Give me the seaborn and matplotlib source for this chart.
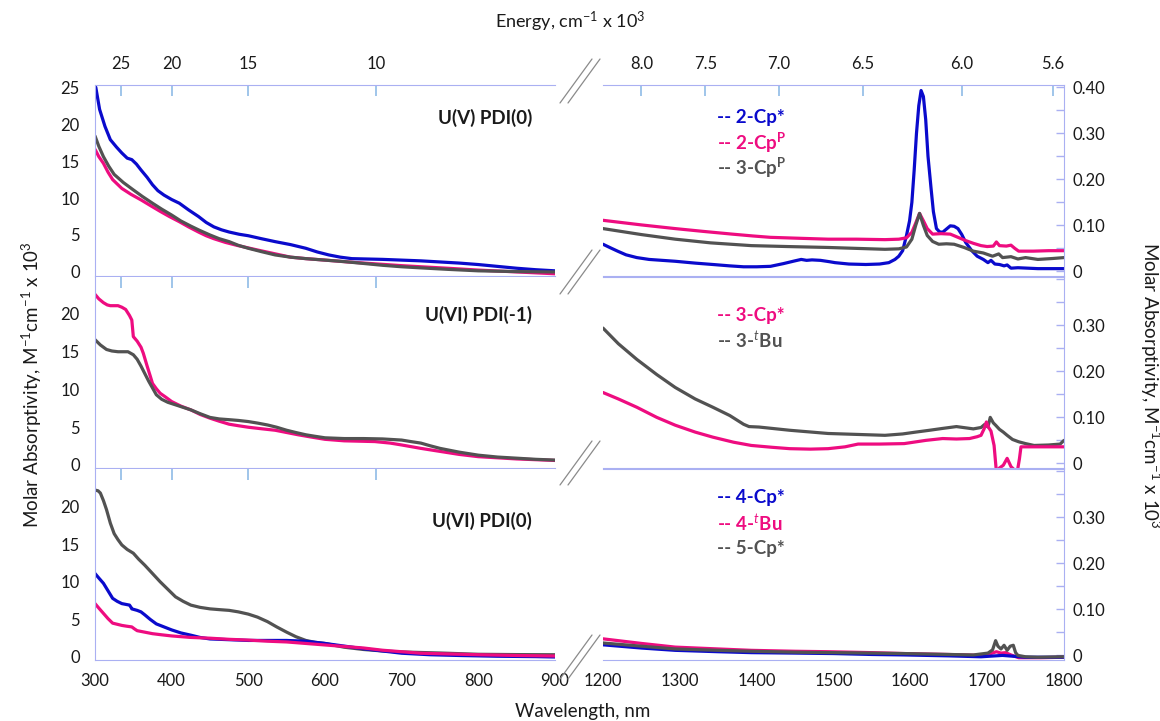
import seaborn as sns
import matplotlib.pyplot as plt
from matplotlib.lines import Line2D
from matplotlib.ticker import MultipleLocator

# ---- UV-vis region (nm), molar absorptivity x 10^3 ----
# U(V) PDI(0)
uv_2cps_x = [301, 306, 313, 320, 328, 335, 342, 348, 354, 360, 368, 375, 382, 390, 400, 410, 422, 435, 445,
             455, 465, 475, 488, 500, 517, 535, 555, 575, 590, 605, 620, 635, 655, 675, 700, 725, 750, 775,
             800, 825, 850, 875, 900]
uv_2cps_y = [25.0, 22.0, 19.7, 17.9, 16.9, 16.1, 15.4, 15.2, 14.6, 13.8, 12.8, 11.8, 11.0, 10.4, 9.8, 9.3, 8.4,
             7.5, 6.7, 6.1, 5.7, 5.4, 5.1, 4.9, 4.5, 4.1, 3.7, 3.2, 2.7, 2.3, 2.0, 1.8, 1.75, 1.7, 1.6, 1.5,
             1.35, 1.2, 1.0, 0.75, 0.5, 0.3, 0.15]
uv_2cpp_x = [300, 305, 311, 317, 323, 335, 347, 360, 372, 385, 397, 410, 422, 435, 445, 455, 470, 485, 500,
             515, 535, 555, 575, 600, 630, 665, 700, 725, 760, 800, 850, 900]
uv_2cpp_y = [16.6, 15.6, 14.7, 13.5, 12.5, 11.3, 10.5, 9.75, 9.0, 8.2, 7.5, 6.8, 6.1, 5.4, 4.9, 4.5, 4.0, 3.6,
             3.25, 2.9, 2.45, 2.0, 1.8, 1.6, 1.35, 1.1, 0.85, 0.7, 0.5, 0.25, 0.0, -0.25]
uv_3cpp_x = [300, 305, 311, 318, 325, 337, 350, 362, 375, 387, 400, 412, 425, 437, 450, 462, 475, 487, 500,
             517, 535, 555, 575, 600, 625, 650, 675, 700, 725, 760, 800, 850, 900]
uv_3cpp_y = [18.4, 17.0, 15.6, 14.3, 13.2, 12.1, 11.1, 10.2, 9.3, 8.5, 7.7, 6.9, 6.2, 5.6, 5.0, 4.5, 4.1, 3.6,
             3.2, 2.75, 2.3, 2.0, 1.8, 1.6, 1.4, 1.15, 0.9, 0.7, 0.55, 0.35, 0.15, 0.05, 0.0]

# U(VI) PDI(-1)
uv_3cps_x = [300, 305, 311, 316, 320, 325, 330, 335, 340, 345, 348, 350, 355, 360, 363, 368, 372, 375, 380,
             385, 392, 400, 412, 425, 437, 450, 462, 475, 487, 500, 517, 535, 550, 565, 582, 600, 625, 645,
             665, 685, 700, 725, 750, 775, 800, 825, 850, 875, 900]
uv_3cps_y = [22.6, 22.0, 21.5, 21.2, 21.1, 21.1, 21.1, 20.9, 20.6, 19.8, 19.2, 17.0, 16.4, 15.6, 14.8, 13.1,
             11.8, 10.8, 10.1, 9.5, 9.0, 8.4, 7.8, 7.3, 6.7, 6.2, 5.8, 5.4, 5.2, 5.0, 4.8, 4.6, 4.3, 4.0, 3.7,
             3.4, 3.2, 3.15, 3.1, 2.9, 2.65, 2.2, 1.8, 1.4, 1.1, 0.95, 0.8, 0.7, 0.6]
uv_3tbu_x = [300, 307, 315, 322, 330, 337, 343, 350, 355, 360, 365, 370, 375, 380, 387, 395, 410, 425, 437,
             450, 462, 475, 487, 500, 512, 525, 537, 550, 562, 575, 587, 600, 625, 650, 675, 700, 712, 725,
             737, 750, 775, 800, 825, 850, 875, 900]
uv_3tbu_y = [16.6, 15.9, 15.3, 15.1, 15.0, 15.0, 15.0, 14.6, 14.0, 13.1, 12.1, 11.1, 10.2, 9.3, 8.7, 8.3,
             7.8, 7.3, 6.8, 6.3, 6.1, 6.0, 5.9, 5.75, 5.55, 5.3, 5.0, 4.6, 4.3, 4.0, 3.8, 3.6, 3.5, 3.5, 3.45,
             3.3, 3.1, 2.9, 2.55, 2.2, 1.7, 1.3, 1.05, 0.9, 0.75, 0.65]

# U(VI) PDI(0)
uv_5cps_x = [300, 304, 307, 311, 315, 320, 325, 330, 335, 342, 350, 357, 365, 375, 385, 395, 405, 415, 425,
             437, 450, 462, 475, 487, 500, 512, 525, 537, 550, 562, 575, 587, 600, 625, 650, 675, 700, 750,
             800, 850, 900]
uv_5cps_y = [22.2, 22.1, 21.8, 20.8, 19.6, 17.8, 16.4, 15.6, 14.9, 14.3, 13.8, 13.0, 12.2, 11.1, 10.0, 9.0,
             8.0, 7.4, 6.9, 6.6, 6.4, 6.3, 6.2, 6.0, 5.7, 5.3, 4.7, 4.0, 3.3, 2.7, 2.2, 1.95, 1.8, 1.3, 1.0,
             0.8, 0.67, 0.53, 0.36, 0.32, 0.3]
uv_4cps_x = [300, 305, 311, 317, 323, 329, 335, 340, 345, 347, 348, 355, 360, 365, 372, 380, 390, 400, 412,
             425, 437, 450, 475, 500, 525, 550, 575, 600, 625, 650, 675, 700, 737, 775, 825, 875, 900]
uv_4cps_y = [11.1, 10.5, 9.8, 8.8, 7.8, 7.4, 7.1, 7.0, 6.9, 6.6, 6.4, 6.2, 6.0, 5.6, 5.0, 4.4, 4.0, 3.6, 3.2,
             2.9, 2.6, 2.4, 2.3, 2.2, 2.2, 2.2, 2.1, 1.8, 1.45, 1.1, 0.8, 0.5, 0.3, 0.2, 0.1, 0.05, 0.0]
uv_4tbu_x = [300, 305, 311, 317, 323, 329, 335, 341, 348, 352, 355, 365, 375, 387, 400, 425, 450, 475, 500,
             525, 550, 575, 600, 625, 650, 675, 700, 725, 762, 800, 850, 900]
uv_4tbu_y = [7.1, 6.5, 5.8, 5.1, 4.5, 4.35, 4.2, 4.1, 4.0, 3.7, 3.5, 3.3, 3.1, 2.95, 2.8, 2.6, 2.5, 2.35,
             2.25, 2.1, 2.0, 1.8, 1.6, 1.4, 1.2, 0.9, 0.7, 0.5, 0.4, 0.3, 0.2, 0.13]

# ---- NIR region (nm), molar absorptivity x 10^3 ----
nir_2cps_x = [1200, 1210, 1219, 1230, 1244, 1260, 1294, 1320, 1343, 1365, 1383, 1400, 1418, 1435, 1450,
              1458, 1465, 1472, 1483, 1495, 1502, 1520, 1542, 1560, 1572, 1580, 1585, 1590, 1595, 1599, 1602,
              1605, 1608, 1611, 1614, 1617, 1620, 1623, 1627, 1630, 1634, 1638, 1642, 1647, 1652, 1657, 1662,
              1667, 1672, 1680, 1687, 1695, 1701, 1705, 1710, 1716, 1722, 1726, 1731, 1740, 1766, 1800]
nir_2cps_y = [0.059, 0.051, 0.044, 0.036, 0.030, 0.026, 0.022, 0.018, 0.015, 0.012, 0.010, 0.010, 0.011,
              0.017, 0.023, 0.026, 0.024, 0.025, 0.024, 0.021, 0.019, 0.016, 0.015, 0.016, 0.019, 0.026,
              0.033, 0.045, 0.078, 0.11, 0.15, 0.22, 0.30, 0.36, 0.393, 0.38, 0.33, 0.25, 0.18, 0.13, 0.093,
              0.086, 0.085, 0.092, 0.099, 0.098, 0.093, 0.080, 0.063, 0.045, 0.033, 0.026, 0.019, 0.024,
              0.016, 0.015, 0.012, 0.014, 0.007, 0.008, 0.006, 0.006]
nir_2cpp_x = [1200, 1250, 1294, 1330, 1368, 1395, 1418, 1455, 1493, 1530, 1567, 1585, 1595, 1602, 1607,
              1612, 1617, 1622, 1629, 1640, 1652, 1662, 1672, 1682, 1692, 1700, 1708, 1712, 1716, 1725, 1731,
              1736, 1741, 1760, 1780, 1800]
nir_2cpp_y = [0.111, 0.101, 0.093, 0.087, 0.081, 0.077, 0.074, 0.072, 0.070, 0.070, 0.069, 0.070, 0.073,
              0.085, 0.105, 0.126, 0.110, 0.093, 0.081, 0.082, 0.081, 0.074, 0.067, 0.061, 0.056, 0.054,
              0.055, 0.064, 0.056, 0.055, 0.057, 0.050, 0.044, 0.044, 0.045, 0.045]
nir_3cpp_x = [1200, 1250, 1294, 1340, 1393, 1440, 1493, 1530, 1567, 1585, 1595, 1602, 1607, 1612, 1617,
              1622, 1629, 1637, 1647, 1657, 1670, 1682, 1695, 1707, 1715, 1720, 1731, 1740, 1750, 1766, 1785,
              1800]
nir_3cpp_y = [0.093, 0.080, 0.070, 0.062, 0.056, 0.054, 0.052, 0.050, 0.048, 0.049, 0.053, 0.070, 0.100,
              0.126, 0.100, 0.078, 0.065, 0.059, 0.060, 0.059, 0.052, 0.044, 0.040, 0.033, 0.038, 0.030,
              0.032, 0.027, 0.030, 0.026, 0.028, 0.030]

nir_3tbu_x = [1200, 1220, 1244, 1270, 1294, 1320, 1343, 1365, 1383, 1390, 1403, 1443, 1493, 1530, 1567,
              1590, 1607, 1625, 1642, 1660, 1682, 1692, 1697, 1701, 1704, 1708, 1711, 1716, 1721, 1726, 1733,
              1741, 1750, 1761, 1780, 1795, 1800]
nir_3tbu_y = [0.294, 0.26, 0.226, 0.193, 0.165, 0.14, 0.122, 0.104, 0.085, 0.080, 0.079, 0.072, 0.065,
              0.063, 0.061, 0.064, 0.068, 0.072, 0.076, 0.080, 0.075, 0.078, 0.085, 0.079, 0.100, 0.088,
              0.083, 0.074, 0.068, 0.061, 0.052, 0.047, 0.043, 0.039, 0.040, 0.042, 0.050]
nir_3cps_x = [1200, 1220, 1244, 1270, 1294, 1320, 1343, 1370, 1393, 1420, 1443, 1470, 1493, 1515, 1532,
              1560, 1592, 1620, 1642, 1660, 1677, 1687, 1692, 1696, 1699, 1702, 1705, 1709, 1712, 1716, 1721,
              1726, 1731, 1736, 1739, 1742, 1744, 1760, 1780, 1800]
nir_3cps_y = [0.154, 0.14, 0.122, 0.10, 0.083, 0.068, 0.057, 0.046, 0.039, 0.035, 0.032, 0.031, 0.032,
              0.036, 0.042, 0.042, 0.043, 0.050, 0.054, 0.053, 0.054, 0.058, 0.061, 0.075, 0.090, 0.078,
              0.070, 0.039, -0.018, -0.010, -0.004, 0.011, -0.007, -0.015, -0.02, 0.010, 0.036, 0.036,
              0.036, 0.036]

nir_4tbu_x = [1200, 1250, 1294, 1350, 1393, 1450, 1493, 1550, 1592, 1650, 1692, 1705, 1712, 1718, 1724,
              1731, 1741, 1770, 1800]
nir_4tbu_y = [0.036, 0.026, 0.018, 0.014, 0.011, 0.009, 0.008, 0.006, 0.004, 0.002, 0.000, 0.004, 0.008,
              0.005, 0.006, 0.001, -0.005, -0.005, -0.004]
nir_4cps_x = [1200, 1250, 1294, 1350, 1393, 1450, 1500, 1550, 1592, 1650, 1692, 1720, 1750, 1800]
nir_4cps_y = [0.023, 0.016, 0.011, 0.008, 0.006, 0.005, 0.004, 0.002, 0.001, -0.001, -0.003, 0.0, -0.004,
              -0.004]
nir_5cps_x = [1200, 1250, 1294, 1350, 1393, 1450, 1500, 1550, 1592, 1650, 1682, 1701, 1707, 1711, 1714,
              1718, 1722, 1726, 1730, 1734, 1737, 1740, 1750, 1766, 1800]
nir_5cps_y = [0.027, 0.020, 0.014, 0.011, 0.009, 0.007, 0.006, 0.005, 0.004, 0.002, 0.001, 0.005, 0.012,
              0.032, 0.020, 0.014, 0.022, 0.011, 0.020, 0.022, 0.006, 0.0, -0.003, -0.004, -0.003]

# tick labels
energy_uv_labels = ['25', '20', '15', '10']
energy_uv_nm = [333.3, 400, 500, 666.7]
energy_nir = [8.0, 7.5, 7.0, 6.5, 6.0, 5.6]
uv_ticks = [300, 400, 500, 600, 700, 800, 900]
nir_ticks = [1200, 1300, 1400, 1500, 1600, 1700, 1800]

BLUE = '#0a0acc'
PINK = '#ee0c80'
GRAY = '#525252'
SPINE = '#aab0f2'
ETICK = '#8fbbe6'
TXT = '#1a1a1a'

sns.set_style('white')
plt.rcParams['font.family'] = ['Lato', 'DejaVu Sans']
plt.rcParams['mathtext.fontset'] = 'custom'
plt.rcParams['mathtext.rm'] = 'Lato'
plt.rcParams['mathtext.it'] = 'Lato:italic'
plt.rcParams['mathtext.bf'] = 'Lato:bold'

W, H = 1160, 721
fig = plt.figure(figsize=(W / 100, H / 100), dpi=100)

lx, lw_ = 95 / W, 460 / W
rx, rw = 603 / W, 461 / W
rows = [(1 - 276 / H), (1 - 468 / H), (1 - 660 / H)]
rh = 191 / H

uv_series = [
    [(uv_2cps_x, uv_2cps_y, BLUE), (uv_2cpp_x, uv_2cpp_y, PINK), (uv_3cpp_x, uv_3cpp_y, GRAY)],
    [(uv_3cps_x, uv_3cps_y, PINK), (uv_3tbu_x, uv_3tbu_y, GRAY)],
    [(uv_5cps_x, uv_5cps_y, GRAY), (uv_4cps_x, uv_4cps_y, BLUE), (uv_4tbu_x, uv_4tbu_y, PINK)],
]
nir_series = [
    [(nir_2cps_x, nir_2cps_y, BLUE), (nir_2cpp_x, nir_2cpp_y, PINK), (nir_3cpp_x, nir_3cpp_y, GRAY)],
    [(nir_3tbu_x, nir_3tbu_y, GRAY), (nir_3cps_x, nir_3cps_y, PINK)],
    [(nir_4tbu_x, nir_4tbu_y, PINK), (nir_4cps_x, nir_4cps_y, BLUE), (nir_5cps_x, nir_5cps_y, GRAY)],
]
titles = ['U(V) PDI(0)', 'U(VI) PDI(-1)', 'U(VI) PDI(0)']
title_y = [0.83, 0.80, 0.73]
uv_ylims = [(-0.55, 25.3), (-0.4, 24.9), (-0.4, 25.0)]
legends = [
    [('-- 2-Cp*', BLUE), (r'-- 2-Cp$^{\mathbf{P}}$', PINK), (r'-- 3-Cp$^{\mathbf{P}}$', GRAY)],
    [('-- 3-Cp*', PINK), (r'-- 3-$^{t}$Bu', GRAY)],
    [('-- 4-Cp*', BLUE), (r'-- 4-$^{t}$Bu', PINK), ('-- 5-Cp*', GRAY)],
]
legend_y0 = [0.83, 0.80, 0.85]
FS = 12

for i in range(3):
    # left: UV-vis
    ax = fig.add_axes([lx, rows[i], lw_, rh])
    for x, y, c in uv_series[i]:
        sns.lineplot(x=x, y=y, ax=ax, color=c, linewidth=2.3)
    ax.set_xlim(300, 900)
    ax.set_ylim(*uv_ylims[i])
    ax.set_yticks([0, 5, 10, 15, 20, 25] if i == 0 else [0, 5, 10, 15, 20])
    ax.set_xticks(uv_ticks)
    ax.tick_params(axis='y', length=0, pad=11, labelsize=FS, labelcolor=TXT)
    ax.tick_params(axis='x', direction='in', length=6, width=1, color=SPINE, pad=9,
                   labelsize=FS, labelcolor=TXT, labelbottom=(i == 2))
    for s in ['left', 'bottom', 'top']:
        ax.spines[s].set_color(SPINE)
    ax.spines['right'].set_visible(False)
    ax.spines['top'].set_visible(i == 0)
    sec = ax.secondary_xaxis('top')
    sec.set_xticks(energy_uv_nm, energy_uv_labels if i == 0 else [])
    sec.tick_params(direction='in', length=8, width=1.2, color=ETICK, pad=9,
                    labelsize=FS, labelcolor=TXT)
    sec.spines['top'].set_visible(False)
    ax.text(0.95, title_y[i], titles[i], transform=ax.transAxes, ha='right', va='center',
            fontsize=13.5, fontweight='bold', color=TXT)
    ax.set_xlabel('')
    ax.set_ylabel('')

    # right: NIR
    ax2 = fig.add_axes([rx, rows[i], rw, rh])
    for x, y, c in nir_series[i]:
        sns.lineplot(x=x, y=y, ax=ax2, color=c, linewidth=2.3)
    ax2.set_xlim(1200, 1800)
    ax2.set_ylim(-0.01, 0.405)
    ax2.set_xticks(nir_ticks)
    ax2.yaxis.tick_right()
    ytk = [0, 0.1, 0.2, 0.3, 0.4] if i == 0 else [0, 0.1, 0.2, 0.3]
    ax2.set_yticks(ytk, ['0' if v == 0 else f'{v:.2f}' for v in ytk])
    ax2.yaxis.set_minor_locator(MultipleLocator(0.05))
    ax2.tick_params(axis='y', which='both', direction='in', length=6, width=1, color=SPINE,
                    pad=6, labelsize=FS, labelcolor=TXT)
    ax2.tick_params(axis='x', direction='in', length=6, width=1, color=SPINE, pad=9,
                    labelsize=FS, labelcolor=TXT, labelbottom=(i == 2))
    for s in ['right', 'bottom', 'top']:
        ax2.spines[s].set_color(SPINE)
    ax2.spines['left'].set_visible(False)
    if i == 0:
        sec2 = ax2.secondary_xaxis('top', functions=(lambda w: 1e4 / w, lambda e: 1e4 / e))
        sec2.set_xticks(energy_nir, [f'{e:.1f}' for e in energy_nir])
        sec2.tick_params(direction='in', length=8, width=1.2, color=ETICK, pad=9,
                         labelsize=FS, labelcolor=TXT)
        sec2.spines['top'].set_visible(False)
    for k, (lab, c) in enumerate(legends[i]):
        ax2.text(0.247, legend_y0[i] - k * 0.133, lab, transform=ax2.transAxes, ha='left',
                 va='center', fontsize=13.5, fontweight='bold', color=c)
    ax2.set_xlabel('')
    ax2.set_ylabel('')

# axis titles
fig.text(570 / W, 1 - 22 / H, r'Energy, cm$^{-1}$ x 10$^{3}$', ha='center', va='center',
         fontsize=13, color=TXT)
fig.text(583 / W, 1 - 712 / H, 'Wavelength, nm', ha='center', va='center', fontsize=13.5, color=TXT)
ylab = r'Molar Absorptivity, M$^{-1}$cm$^{-1}$ x 10$^{3}$'
fig.text(32 / W, 1 - 385 / H, ylab, rotation=90, ha='center', va='center', fontsize=13.5, color=TXT)
fig.text(1150 / W, 1 - 385 / H, ylab, rotation=-90, ha='center', va='center', fontsize=13.5, color=TXT)


# axis break marks "//"
def brk(cx, cy, w=32, h=44, gap=8):
    for dx in (-gap / 2, gap / 2):
        x0, x1 = cx + dx - w / 2, cx + dx + w / 2
        fig.add_artist(Line2D([x0 / W, x1 / W], [1 - (cy + h / 2) / H, 1 - (cy - h / 2) / H],
                              transform=fig.transFigure, color='#8a8a8a', lw=0.9))


for cy in (81, 272, 463, 657):
    brk(580, cy)

fig.savefig('out.png', dpi=100)
